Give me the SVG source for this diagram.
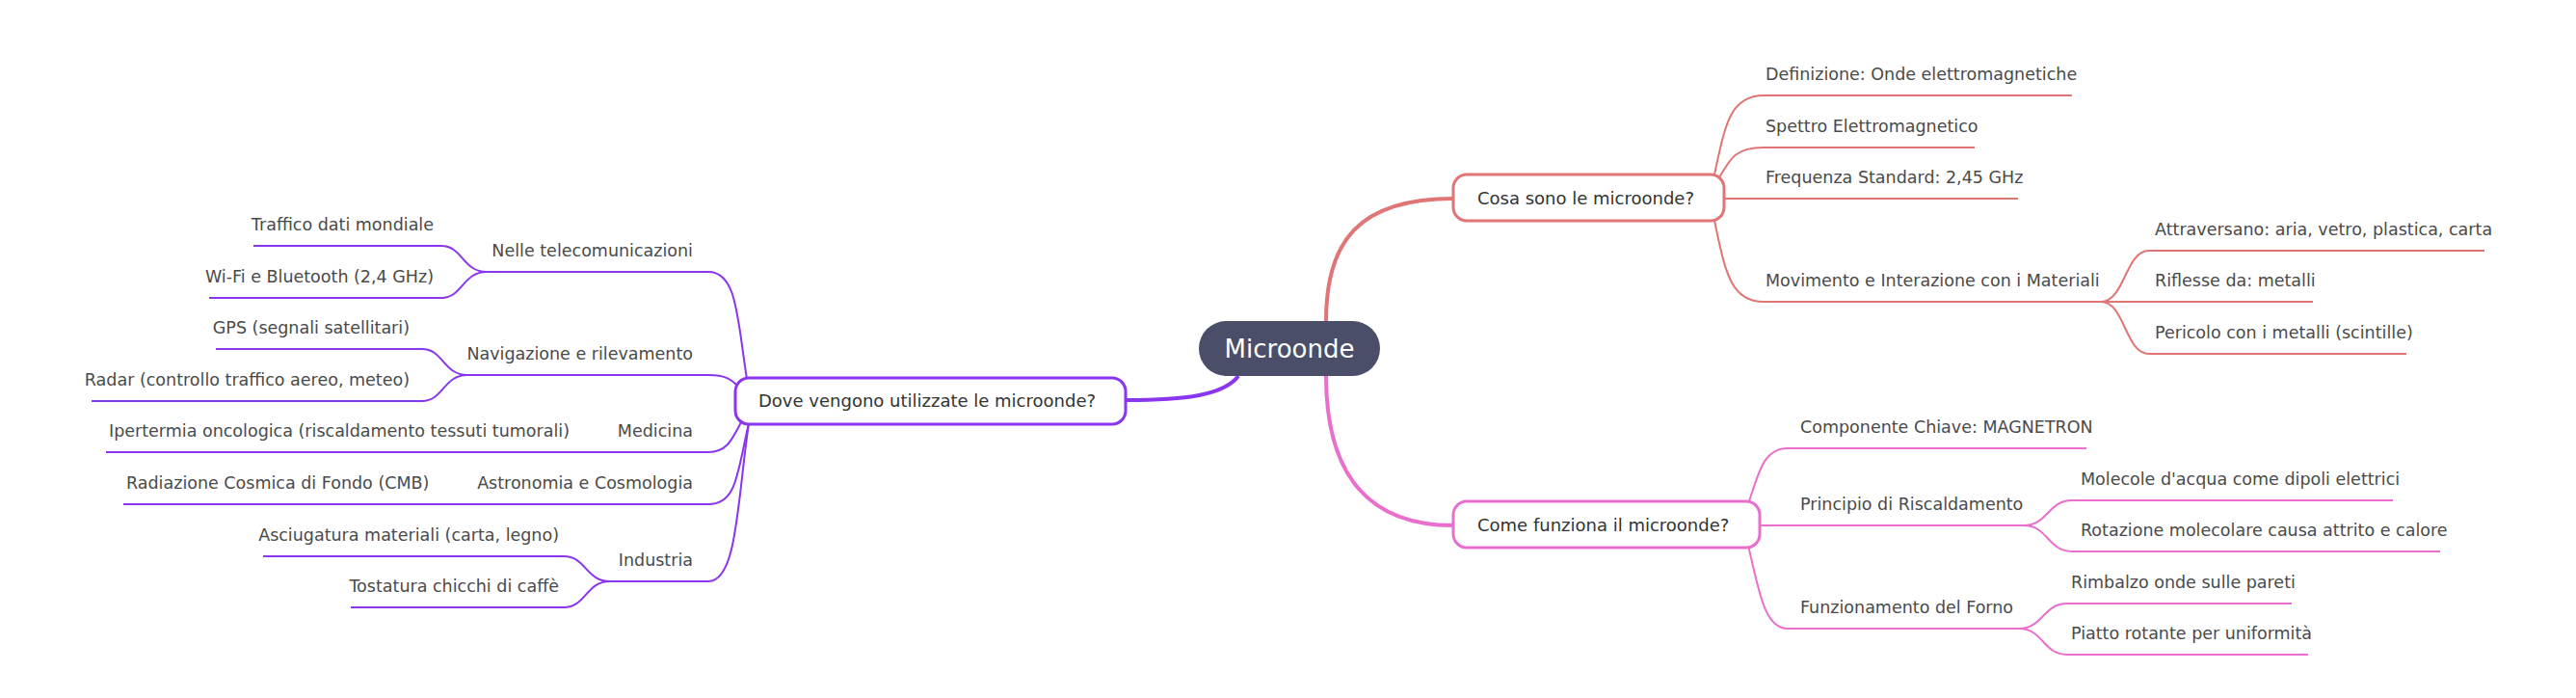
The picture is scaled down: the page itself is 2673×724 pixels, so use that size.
<svg xmlns="http://www.w3.org/2000/svg" width="2673" height="724" viewBox="0 0 2673 724">
<style>
text{font-family:"DejaVu Sans","Liberation Sans",sans-serif;font-size:17.5px;fill:#4a4a4a}
.n{font-size:18px;fill:#333}
.e{text-anchor:end}
.c path{fill:none}
.r{stroke:#e07575}
.p{stroke:#ea6fcd}
.v{stroke:#8a35ee}
.t{stroke-width:4}
.l{stroke-width:2}
</style>
<rect width="2673" height="724" fill="#fff"/>
<g id="connectors" class="c">
<path class="r t" d="M1376,333 C1376,250 1410,206 1508,206"/>
<path class="p t" d="M1376,390 C1376,480 1410,545 1508,545"/>
<path class="v t" d="M1285,390 C1270,410 1230,415 1168,415"/>
<path class="r l" d="M1779,181 C1790,130 1795,99 1830,99 L2150,99"/>
<path class="r l" d="M1783,186 C1795,165 1800,153 1830,153 L2049,153"/>
<path class="r l" d="M1789,206 L2094,206"/>
<path class="r l" d="M1779,229 C1790,280 1795,313 1830,313 L2180,313"/>
<path class="r l" d="M2180,313 C2205,313 2205,260 2230,260 L2578,260"/>
<path class="r l" d="M2180,313 L2400,313"/>
<path class="r l" d="M2180,313 C2205,313 2205,367 2230,367 L2497,367"/>
<path class="p l" d="M1814,523 C1825,490 1830,465 1855,465 L2165,465"/>
<path class="p l" d="M1826,545 L2100,545"/>
<path class="p l" d="M2100,545 C2125,545 2125,519 2150,519 L2483,519"/>
<path class="p l" d="M2100,545 C2125,545 2125,572 2150,572 L2532,572"/>
<path class="p l" d="M1814,566 C1825,610 1830,652 1855,652 L2095,652"/>
<path class="p l" d="M2095,652 C2120,652 2120,626 2145,626 L2378,626"/>
<path class="p l" d="M2095,652 C2120,652 2120,679 2145,679 L2395,679"/>
<path class="v l" d="M775,393 C765,330 765,282 735,282 L505,282"/>
<path class="v l" d="M505,282 C480,282 480,255 458,255 L263,255"/>
<path class="v l" d="M505,282 C480,282 480,309 458,309 L217,309"/>
<path class="v l" d="M765,400 C760,395 755,389 735,389 L485,389"/>
<path class="v l" d="M485,389 C460,389 460,362 438,362 L224,362"/>
<path class="v l" d="M485,389 C460,389 460,416 438,416 L95,416"/>
<path class="v l" d="M770,436 C760,455 755,469 735,469 L110,469"/>
<path class="v l" d="M777,439 C765,490 765,523 735,523 L128,523"/>
<path class="v l" d="M777,439 C765,520 765,603 735,603 L633,603"/>
<path class="v l" d="M633,603 C608,603 608,577 585,577 L273,577"/>
<path class="v l" d="M633,603 C608,603 608,630 585,630 L364,630"/>
</g>
<g id="root"><rect x="1244" y="333" width="188" height="57" rx="28.5" fill="#4a4e69"/><text x="1338" y="371" text-anchor="middle" style="font-size:26px;fill:#fff">Microonde</text></g>
<g id="n1"><rect x="1508" y="181" width="281" height="48" rx="14" fill="#fff" stroke="#e07575" stroke-width="3"/><text class="n" x="1533" y="212">Cosa sono le microonde?</text></g>
<g id="n2"><rect x="1508" y="520" width="318" height="48" rx="14" fill="#fff" stroke="#ea6fcd" stroke-width="3"/><text class="n" x="1533" y="551">Come funziona il microonde?</text></g>
<g id="n3"><rect x="763" y="392" width="405" height="48" rx="14" fill="#fff" stroke="#8a35ee" stroke-width="3"/><text class="n" x="787" y="422">Dove vengono utilizzate le microonde?</text></g>
<g id="leaves">
<text x="1832" y="83">Definizione: Onde elettromagnetiche</text>
<text x="1832" y="137">Spettro Elettromagnetico</text>
<text x="1832" y="190">Frequenza Standard: 2,45 GHz</text>
<text x="1832" y="297">Movimento e Interazione con i Materiali</text>
<text x="2236" y="244">Attraversano: aria, vetro, plastica, carta</text>
<text x="2236" y="297">Riflesse da: metalli</text>
<text x="2236" y="351">Pericolo con i metalli (scintille)</text>
<text x="1868" y="449">Componente Chiave: MAGNETRON</text>
<text x="1868" y="529">Principio di Riscaldamento</text>
<text x="1868" y="636">Funzionamento del Forno</text>
<text x="2159" y="503">Molecole d'acqua come dipoli elettrici</text>
<text x="2159" y="556">Rotazione molecolare causa attrito e calore</text>
<text x="2149" y="610">Rimbalzo onde sulle pareti</text>
<text x="2149" y="663">Piatto rotante per uniformità</text>
<text class="e" x="719" y="266">Nelle telecomunicazioni</text>
<text class="e" x="450" y="239">Traffico dati mondiale</text>
<text class="e" x="450" y="293">Wi-Fi e Bluetooth (2,4 GHz)</text>
<text class="e" x="719" y="373">Navigazione e rilevamento</text>
<text class="e" x="425" y="346">GPS (segnali satellitari)</text>
<text class="e" x="425" y="400">Radar (controllo traffico aereo, meteo)</text>
<text class="e" x="719" y="453">Medicina</text>
<text x="113" y="453">Ipertermia oncologica (riscaldamento tessuti tumorali)</text>
<text class="e" x="719" y="507">Astronomia e Cosmologia</text>
<text x="131" y="507">Radiazione Cosmica di Fondo (CMB)</text>
<text class="e" x="719" y="587">Industria</text>
<text class="e" x="580" y="561">Asciugatura materiali (carta, legno)</text>
<text class="e" x="580" y="614">Tostatura chicchi di caffè</text>
</g>
</svg>
